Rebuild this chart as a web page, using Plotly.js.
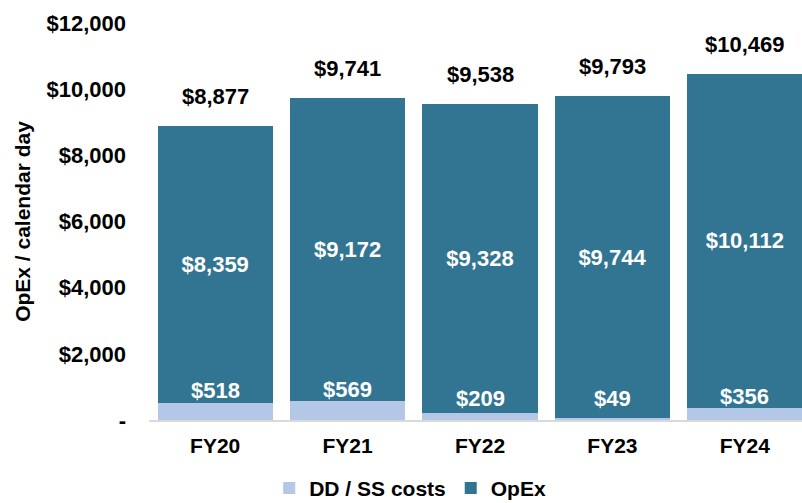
<!DOCTYPE html>
<html>
<head>
<meta charset="utf-8">
<script src="https://cdn.plot.ly/plotly-3.0.1.min.js"></script>
<style>html,body{margin:0;padding:0;background:#fff;}#chart{width:802px;height:503px;}</style>
</head>
<body>
<div id="chart"></div>
<script>
const categories = ['FY20', 'FY21', 'FY22', 'FY23', 'FY24'];
const ddSsCosts = [518, 569, 209, 49, 356];
const opex = [8359, 9172, 9328, 9744, 10112];
const totals = [8877, 9741, 9538, 9793, 10469];
const yTickVals = [0, 2000, 4000, 6000, 8000, 10000, 12000];
const yTickText = ['-', '$2,000', '$4,000', '$6,000', '$8,000', '$10,000', '$12,000'];

const fmt = v => '$' + v.toLocaleString('en-US');
const FONT = 'Liberation Sans, Arial, sans-serif';

const traces = [
  {
    type: 'bar', name: 'DD / SS costs', x: categories, y: ddSsCosts,
    marker: {color: '#B4C7E7', line: {width: 0}},
    hoverinfo: 'skip'
  },
  {
    type: 'bar', name: 'OpEx', x: categories, y: opex,
    marker: {color: '#327593', line: {width: 0}},
    text: opex.map(fmt), textposition: 'inside', insidetextanchor: 'middle',
    textfont: {color: '#ffffff', size: 22, family: FONT, weight: 700},
    hoverinfo: 'skip'
  }
];

const annotations = [];
categories.forEach((c, i) => {
  annotations.push({
    x: c, y: totals[i], xref: 'x', yref: 'y', text: fmt(totals[i]),
    showarrow: false, yanchor: 'bottom', yshift: 15,
    font: {color: '#000000', size: 22, family: FONT, weight: 700}
  });
  annotations.push({
    x: c, y: Math.max(ddSsCosts[i], 300), xref: 'x', yref: 'y', text: fmt(ddSsCosts[i]),
    showarrow: false, yanchor: 'middle', yshift: 12,
    font: {color: '#ffffff', size: 22, family: FONT, weight: 700}
  });
});

const layout = {
  width: 802, height: 503,
  margin: {l: 149, r: 0, t: 23, b: 83, autoexpand: false},
  paper_bgcolor: '#ffffff', plot_bgcolor: '#ffffff',
  font: {family: FONT, size: 21, color: '#000000', weight: 700},
  barmode: 'stack', bargap: 0.13,
  showlegend: true,
  legend: {
    orientation: 'h', x: 0.40, xanchor: 'center', y: -0.172, yanchor: 'middle',
    font: {size: 21, family: FONT, weight: 700, color: '#000000'},
    itemwidth: 30, traceorder: 'normal'
  },
  xaxis: {
    type: 'category', range: [-0.5, 4.432], fixedrange: true,
    showline: true, linecolor: '#D9D9D9', linewidth: 1.5,
    showgrid: false, ticks: '', ticklabelstandoff: 6,
    tickfont: {size: 21, family: FONT, weight: 700, color: '#000000'}
  },
  yaxis: {
    range: [0, 12000], tickvals: yTickVals, ticktext: yTickText,
    showgrid: false, zeroline: false, showline: false, ticks: '',
    ticklabelstandoff: 22,
    tickfont: {size: 22, family: FONT, weight: 700, color: '#000000'},
    title: {text: 'OpEx / calendar day', standoff: 10,
            font: {size: 21, family: FONT, weight: 700, color: '#000000'}}
  },
  annotations: annotations
};

Plotly.newPlot('chart', traces, layout, {displayModeBar: false, staticPlot: true});
</script>
</body>
</html>
